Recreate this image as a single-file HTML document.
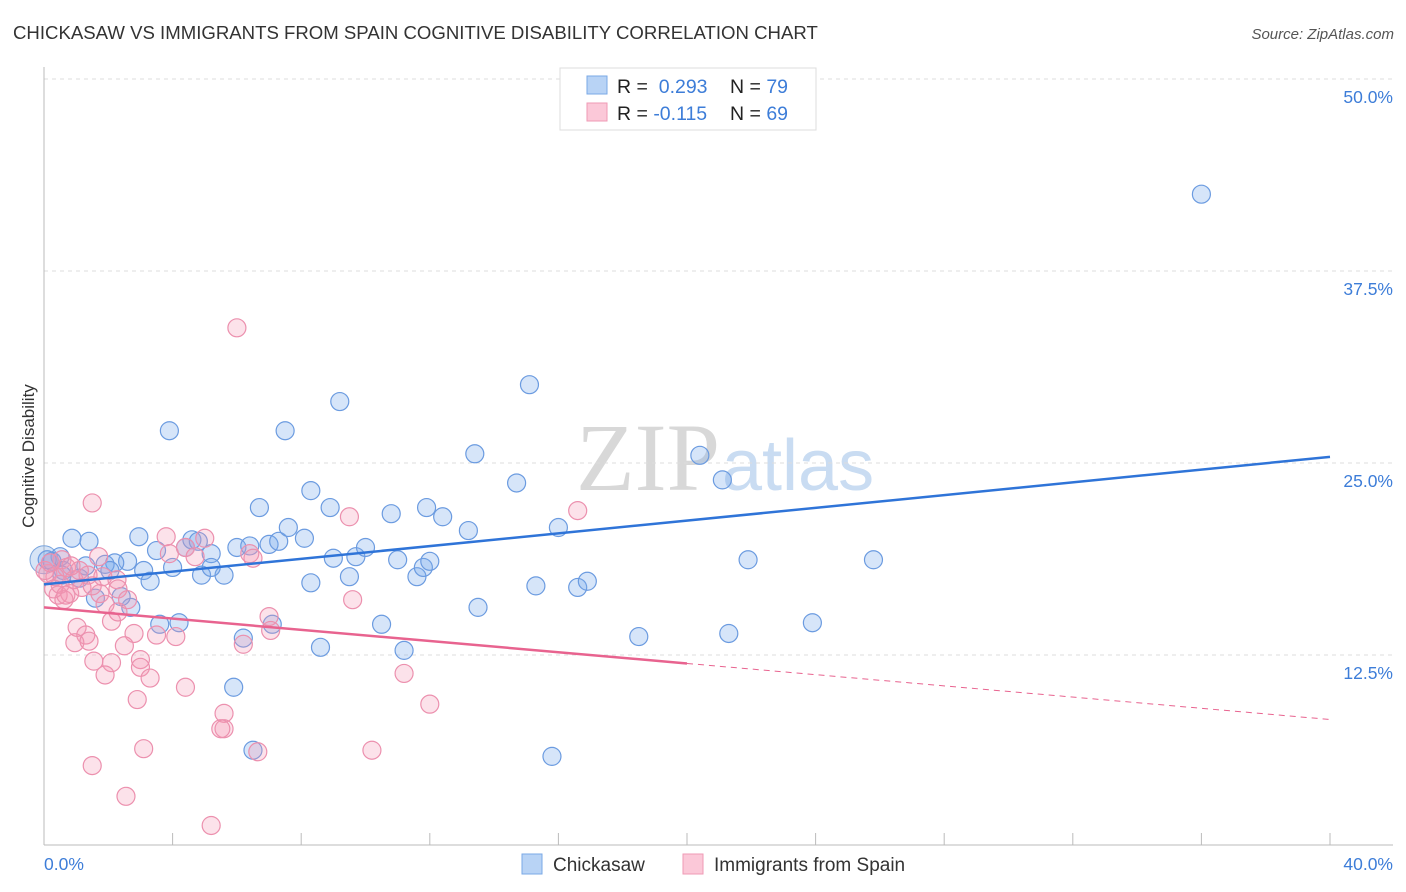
<!DOCTYPE html>
<html><head><meta charset="utf-8"><style>
body{margin:0;background:#fff;font-family:"Liberation Sans",sans-serif}
svg{display:block}
</style></head><body>
<svg id="chart" width="1406" height="892">
<text x="13" y="39" font-size="18.6" fill="#333">CHICKASAW VS IMMIGRANTS FROM SPAIN COGNITIVE DISABILITY CORRELATION CHART</text>
<text x="1394" y="39" font-size="15" fill="#555" font-style="italic" text-anchor="end">Source: ZipAtlas.com</text>
<text x="720" y="490" font-size="96" fill="#d8d8d8" text-anchor="end" font-family="Liberation Serif,serif">ZIP</text>
<text x="722" y="490" font-size="72" fill="#c9dcf2">atlas</text>
<text transform="translate(34,456) rotate(-90)" font-size="17" fill="#333" text-anchor="middle">Cognitive Disability</text>
<g id="grid"></g><g id="marks"></g>
<g>
<rect x="560" y="68" width="256" height="62" fill="#fff" stroke="#ddd"/>
<rect x="587" y="76" width="20" height="18" fill="#b8d3f5" stroke="#7aa8e6"/>
<rect x="587" y="103" width="20" height="18" fill="#fbc8d8" stroke="#ef9ab5"/>
<text x="617" y="93" font-size="19.5" fill="#222">R = <tspan fill="#3d7dd8">&#160;0.293</tspan><tspan x="730">N = </tspan><tspan fill="#3d7dd8">79</tspan></text>
<text x="617" y="120" font-size="19.5" fill="#222">R = <tspan fill="#3d7dd8">-0.115</tspan><tspan x="730">N = </tspan><tspan fill="#3d7dd8">69</tspan></text>
</g>
<g>
<rect x="522" y="854" width="20" height="20" fill="#b8d3f5" stroke="#7aa8e6"/>
<text x="553" y="871" font-size="19" fill="#333">Chickasaw</text>
<rect x="683" y="854" width="20" height="20" fill="#fbc8d8" stroke="#ef9ab5"/>
<text x="714" y="871" font-size="19" fill="#333">Immigrants from Spain</text>
</g>
</svg>
<script>
const yTicks=[12.5,25,37.5,50];
const yTickLabels=["12.5%","25.0%","37.5%","50.0%"];
const xTickLabels=["0.0%","40.0%"];
const blueX=[0.87,1.4,2.95,3.5,2.6,2.2,3.1,3.3,4.0,4.4,4.6,4.8,5.2,4.9,5.6,5.2,6.0,6.4,7.0,7.3,7.6,8.1,6.7,8.3,8.9,9.0,8.3,9.5,9.7,10.0,10.8,11.0,11.6,11.8,12.0,11.9,12.4,13.2,13.5,8.6,7.1,6.2,3.6,4.2,2.7,2.4,1.6,1.9,0.5,0.25,0.6,1.1,5.9,6.5,10.5,11.2,15.8,15.3,16.6,16.9,16.0,14.7,13.4,15.1,9.2,7.5,3.9,20.4,21.1,21.9,25.8,23.9,21.3,18.5,36.0,0.1,0.56,1.3,2.05];
const blueY=[20.1,19.9,20.2,19.3,18.6,18.5,18.0,17.3,18.2,19.5,20.0,19.9,19.1,17.7,17.7,18.2,19.5,19.6,19.7,19.9,20.8,20.1,22.1,23.2,22.1,18.8,17.2,17.6,18.9,19.5,21.7,18.7,17.6,18.2,18.6,22.1,21.5,20.6,15.6,13.0,14.5,13.6,14.5,14.6,15.6,16.3,16.2,18.4,18.9,18.6,18.0,17.5,10.4,6.3,14.5,12.8,5.9,17.0,16.9,17.3,20.8,23.7,25.6,30.1,29.0,27.1,27.1,25.5,23.9,18.7,18.7,14.6,13.9,13.7,42.5,18.7,17.7,18.3,18.0];
const pinkX=[1.5,6.0,16.6,9.5,3.8,5.0,4.4,6.4,4.7,1.7,0.56,0.7,0.12,0.34,0.93,1.37,1.83,2.27,0.44,0.8,1.18,1.74,2.3,1.9,2.1,2.3,1.03,1.3,0.96,1.4,2.8,3.5,4.1,2.5,1.55,2.1,1.9,3.0,3.0,3.3,4.4,2.9,7.0,6.2,9.6,11.2,12.0,5.6,5.6,5.5,3.1,1.5,2.55,5.2,6.65,10.2,7.05,0.5,0.03,0.2,2.6,6.5,0.62,3.9,0.3,1.1,0.68,0.84,1.5];
const pinkY=[22.4,33.8,21.9,21.5,20.2,20.1,19.5,19.1,18.9,18.9,18.7,18.2,17.8,17.6,17.4,17.7,17.6,17.4,16.4,16.5,16.9,16.5,16.8,15.8,14.7,15.3,14.3,13.8,13.3,13.4,13.9,13.8,13.7,13.1,12.1,12.0,11.2,12.2,11.7,11.0,10.4,9.6,15.0,13.2,16.1,11.3,9.3,8.7,7.7,7.7,6.4,5.3,3.3,1.4,6.2,6.3,14.1,17.1,18.0,18.5,16.1,18.8,16.1,19.1,16.8,18.0,16.4,18.3,17.0];
const blueTrend=[17.1,25.4];
const pinkTrend=[15.6,8.3];
const pinkSolidEnd=20;

const NS="http://www.w3.org/2000/svg";
const X0=44,X1=1330,Y0=847,PER=192/12.5;
function sx(v){return X0+(v/40)*(X1-X0);}
function sy(v){return Y0-v*PER;}
function mk(tag,attrs,parent){const e=document.createElementNS(NS,tag);for(const k in attrs)e.setAttribute(k,attrs[k]);parent.appendChild(e);return e;}
const grid=document.getElementById('grid'),marks=document.getElementById('marks');
yTicks.forEach((t,i)=>{
 const l=mk('line',{x1:44,x2:1393,y1:sy(t),y2:sy(t),stroke:'#ddd','stroke-dasharray':'4,4'},grid);
 
 
 const tx=mk('text',{x:1393,y:sy(t)+24,'font-size':17.5,fill:'#3d7dd8','text-anchor':'end'},grid);
 tx.textContent=yTickLabels[i];
 
 
});
const ax=mk('line',{x1:44,x2:44,y1:67,y2:845,stroke:'#bbb'},grid);


const bx=mk('line',{x1:44,x2:1393,y1:845,y2:845,stroke:'#bbb'},grid);


for(let i=1;i<=10;i++){
 const tk=mk('line',{x1:sx(i*4),x2:sx(i*4),y1:833,y2:845,stroke:'#bbb'},grid);
 
 
}
const xl0=mk('text',{x:44,y:870,'font-size':17.5,fill:'#3d7dd8'},grid);xl0.textContent=xTickLabels[0];


const xl1=mk('text',{x:1393,y:870,'font-size':17.5,fill:'#3d7dd8','text-anchor':'end'},grid);xl1.textContent=xTickLabels[1];


const big=mk('circle',{cx:sx(0),cy:sy(18.7),r:14,fill:'rgba(120,165,225,0.3)',stroke:'#7aa5dd'},marks);


blueX.forEach((v,i)=>{
 const c=mk('circle',{cx:sx(v),cy:sy(blueY[i]),r:9,fill:'rgba(120,170,235,0.3)',stroke:'#6b9be0','stroke-width':1.2},marks);
 
 
});
pinkX.forEach((v,i)=>{
 const c=mk('circle',{cx:sx(v),cy:sy(pinkY[i]),r:9,fill:'rgba(245,150,180,0.28)',stroke:'#ec90ae','stroke-width':1.2},marks);
 
 
});
const bl=mk('line',{x1:sx(0),y1:sy(blueTrend[0]),x2:sx(40),y2:sy(blueTrend[1]),stroke:'#2f74d8','stroke-width':2.5},marks);


const pm=pinkTrend[0]+(pinkTrend[1]-pinkTrend[0])*pinkSolidEnd/40;
const pl=mk('line',{x1:sx(0),y1:sy(pinkTrend[0]),x2:sx(pinkSolidEnd),y2:sy(pm),stroke:'#e8638f','stroke-width':2.5},marks);


const pd=mk('line',{x1:sx(pinkSolidEnd),y1:sy(pm),x2:sx(40),y2:sy(pinkTrend[1]),stroke:'#e8638f','stroke-width':1,'stroke-dasharray':'6,5'},marks);


</script>
</body></html>
